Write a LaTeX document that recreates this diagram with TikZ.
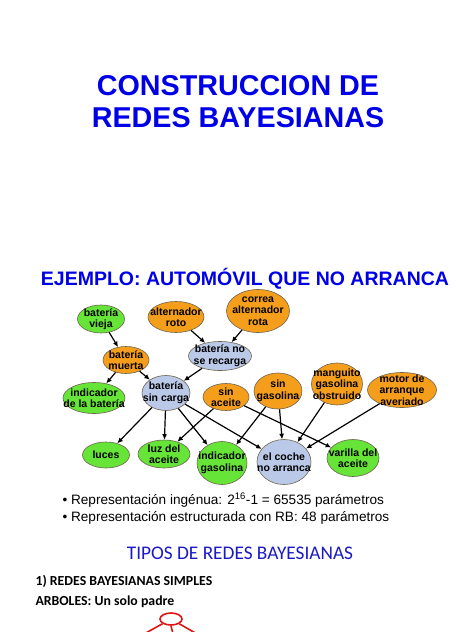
\documentclass[tikz,border=0pt]{standalone}
\usepackage{fontspec}
\setmainfont{Liberation Sans}
\newfontfamily\calib{Carlito}
\usetikzlibrary{shapes.geometric,arrows.meta}
\definecolor{titleblue}{RGB}{0,0,230}
\definecolor{tiposblue}{RGB}{25,25,200}
\definecolor{nodeorange}{RGB}{245,158,27}
\definecolor{nodegreen}{RGB}{102,228,55}
\definecolor{nodeblue}{RGB}{186,201,231}
\definecolor{nodeline}{RGB}{110,100,80}
\definecolor{treered}{RGB}{225,20,20}
\tikzset{
  bn/.style={ellipse, draw=nodeline, line width=0.6pt, inner sep=-12pt, align=center,
    font=\bfseries\fontsize{10.5}{11.5}\selectfont, text=black},
  orn/.style={bn, fill=nodeorange},
  grn/.style={bn, fill=nodegreen},
  bln/.style={bn, fill=nodeblue},
  arr/.style={-{Latex[length=5.5pt,width=5pt]}, line width=1.2pt, black},
  tree/.style={draw=treered, line width=1.6pt},
}
\begin{document}
\begin{tikzpicture}[x=1pt,y=-1pt]
\fill[white] (0,0) rectangle (474,632);
\useasboundingbox (0,0) rectangle (474,632);
% titles
\node (t1) at (238,86) {\textcolor{titleblue}{\bfseries\fontsize{28.7}{32}\selectfont CONSTRUCCION DE}};
\node (t2) at (238,118) {\textcolor{titleblue}{\bfseries\fontsize{28.7}{32}\selectfont REDES BAYESIANAS}};
\node (t3) at (245,279) {\textcolor{titleblue}{\bfseries\fontsize{19.5}{21}\selectfont EJEMPLO: AUTOMÓVIL QUE NO ARRANCA}};
% nodes
\node[grn, minimum width=47pt, minimum height=28pt] (vieja) at (101,319) {batería\\vieja};
\node[orn, minimum width=56pt, minimum height=31pt] (alt) at (176,317) {alternador\\roto};
\node[orn, minimum width=63pt, minimum height=43pt] (correa) at (258,311) {correa\\alternador\\rota};
\node[orn, minimum width=46pt, minimum height=27pt] (muerta) at (126,360) {batería\\muerta};
\node[bln, minimum width=63pt, minimum height=29pt] (norec) at (220,356) {batería no\\se recarga};
\node[grn, minimum width=62pt, minimum height=31pt] (indbat) at (94,398) {indicador\\de la batería};
\node[bln, minimum width=48pt, minimum height=35pt] (sincarga) at (166,393) {batería\\sin carga};
\node[orn, minimum width=46pt, minimum height=27pt] (sinac) at (226,397) {sin\\aceite};
\node[orn, minimum width=48pt, minimum height=36pt] (singas) at (278,391) {sin\\gasolina};
\node[orn, minimum width=51pt, minimum height=42pt] (mang) at (337,384) {manguito\\gasolina\\obstruido};
\node[orn, minimum width=69pt, minimum height=35pt] (motor) at (402,390) {motor de\\arranque\\averiado};
\node[grn, minimum width=47pt, minimum height=26pt] (luces) at (106,455) {luces};
\node[grn, minimum width=52pt, minimum height=28pt] (luzac) at (164,454) {luz del\\aceite};
\node[grn, minimum width=50pt, minimum height=43pt] (indgas) at (222,463) {indicador\\gasolina};
\node[bln, minimum width=54pt, minimum height=45pt] (coche) at (284,462) {el coche\\no arranca};
\node[grn, minimum width=52pt, minimum height=37pt] (varilla) at (353,458) {varilla del\\aceite};
% edges
\draw[arr] (vieja) -- (muerta);
\draw[arr] (alt) -- (norec);
\draw[arr] (correa) -- (norec);
\draw[arr] (muerta) -- (indbat);
\draw[arr] (muerta) -- (sincarga);
\draw[arr] (norec) -- (sincarga);
\draw[arr] (sincarga) -- (luces);
\draw[arr] (sincarga) -- (luzac);
\draw[arr] (sincarga) -- (indgas);
\draw[arr] (sincarga) -- (coche);
\draw[arr] (sinac) -- (luzac);
\draw[arr] (sinac) -- (varilla);
\draw[arr] (singas) -- (indgas);
\draw[arr] (singas) -- (coche);
\draw[arr] (mang) -- (coche);
\draw[arr] (motor) -- (coche);
% bullets
\node[anchor=west, font=\fontsize{13.6}{15}\selectfont] (b1) at (59,500) {\textbullet\ Representación ingénua: 2\textsuperscript{16}-1 = 65535 parámetros};
\node[anchor=west, font=\fontsize{13.6}{15}\selectfont] (b2) at (59,518) {\textbullet\ Representación estructurada con RB: 48 parámetros};
% lower section
\node (tipos) at (240,553) {\textcolor{tiposblue}{\calib\fontsize{19.3}{22}\selectfont TIPOS DE REDES BAYESIANAS}};
\node[anchor=west] (s1) at (32,581) {\calib\bfseries\fontsize{13.8}{15}\selectfont 1) REDES BAYESIANAS SIMPLES};
\node[anchor=west] (s2) at (32,602) {\calib\bfseries\fontsize{13.8}{15}\selectfont ARBOLES: Un solo padre};
% red tree
\node[ellipse, tree, minimum width=22pt, minimum height=12pt, inner sep=0pt] (root) at (171,619) {};
\coordinate (lf) at (144,634);
\coordinate (md) at (173,634);
\coordinate (rt) at (197,634);
\draw[tree] (root) -- (lf);
\draw[tree] (root.south) -- (md);
\draw[tree] (root) -- (rt);
\end{tikzpicture}
\end{document}
